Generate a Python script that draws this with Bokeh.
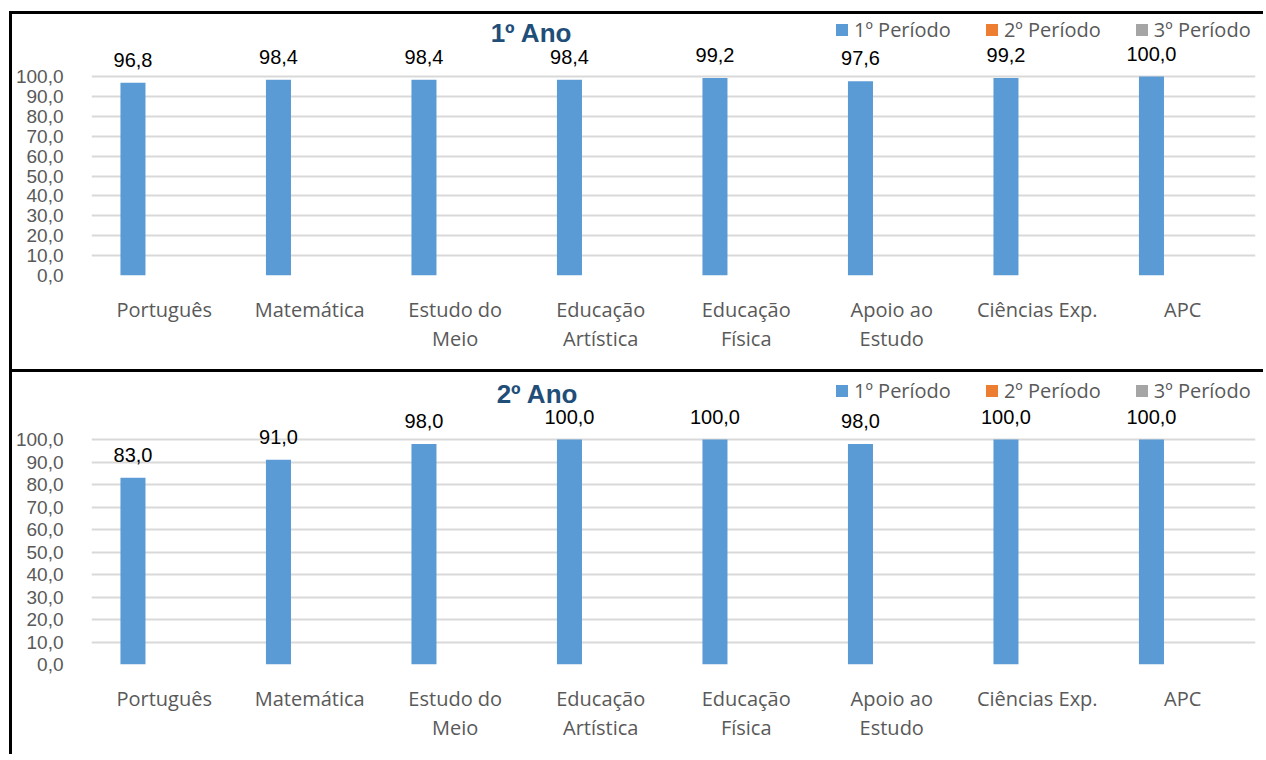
import math
from bokeh.plotting import figure
from bokeh.models import (ColumnDataSource, FactorRange, Range1d, FixedTicker,
                          CustomJSTickFormatter, Legend, LegendItem, Label)
from bokeh.transform import dodge
from bokeh.layouts import column
from bokeh.embed import file_html
from bokeh.resources import INLINE
from bokeh.core.properties import value

NaN = float("nan")

disciplinas = ["Português", "Matemática", "Estudo do\nMeio", "Educação\nArtística",
               "Educação\nFísica", "Apoio ao\nEstudo", "Ciências Exp.", "APC"]
periodos = ["1º Período", "2º Período", "3º Período"]
cores = ["#5B9BD5", "#ED7D31", "#A5A5A5"]

ano1_p1 = [96.8, 98.4, 98.4, 98.4, 99.2, 97.6, 99.2, 100.0]
ano1_p2 = [NaN, NaN, NaN, NaN, NaN, NaN, NaN, NaN]
ano1_p3 = [NaN, NaN, NaN, NaN, NaN, NaN, NaN, NaN]

ano2_p1 = [83.0, 91.0, 98.0, 100.0, 100.0, 98.0, 100.0, 100.0]
ano2_p2 = [NaN, NaN, NaN, NaN, NaN, NaN, NaN, NaN]
ano2_p3 = [NaN, NaN, NaN, NaN, NaN, NaN, NaN, NaN]

y_ticks = [0, 10, 20, 30, 40, 50, 60, 70, 80, 90, 100]

GRAY = "#595959"


def painel(titulo, s1, s2, s3, height, y_top, min_bottom, title_xy, legend_xy):
    lbl = [f"{v:.1f}".replace(".", ",") for v in s1]
    src = ColumnDataSource(dict(cat=disciplinas, p1=s1, p2=s2, p3=s3, lbl=lbl))
    p = figure(x_range=FactorRange(*disciplinas), y_range=Range1d(0, y_top),
               width=1254, height=height, output_backend="svg", toolbar_location=None,
               min_border_left=78, min_border_right=11, min_border_top=0,
               min_border_bottom=min_bottom)
    p.outline_line_color = None
    p.background_fill_color = "white"
    p.border_fill_color = "white"
    p.styles = {"border-top": "3px solid black", "border-left": "3px solid black"}

    offs = [-0.215, 0.0, 0.215]
    rends = []
    for key, off, cor in zip(["p1", "p2", "p3"], offs, cores):
        r = p.vbar(x=dodge("cat", off, range=p.x_range), top=key, width=0.172,
                   source=src, fill_color=cor, line_color=None)
        rends.append(r)

    p.text(x=dodge("cat", offs[0], range=p.x_range), y="p1", text="lbl", source=src,
           y_offset=-23, text_align="center", text_baseline="middle",
           text_font=value("Liberation Sans"), text_font_size="20px", text_color="black")

    p.xgrid.grid_line_color = None
    p.ygrid.ticker = FixedTicker(ticks=y_ticks)
    p.ygrid.grid_line_color = "#D9D9D9"
    p.ygrid.grid_line_width = 2

    ya = p.yaxis[0]
    ya.ticker = FixedTicker(ticks=y_ticks)
    ya.formatter = CustomJSTickFormatter(code="return tick.toFixed(1).replace('.', ',');")
    ya.axis_line_color = None
    ya.major_tick_line_color = None
    ya.minor_tick_line_color = None
    ya.major_tick_out = 0
    ya.major_tick_in = 0
    ya.major_label_standoff = 28
    ya.major_label_text_font = "Liberation Sans"
    ya.major_label_text_font_size = "19px"
    ya.major_label_text_color = GRAY

    xa = p.xaxis[0]
    xa.axis_line_color = None
    xa.major_tick_line_color = None
    xa.minor_tick_line_color = None
    xa.major_tick_out = 0
    xa.major_tick_in = 0
    xa.major_label_standoff = 20
    xa.major_label_text_font = "Open Sans"
    xa.major_label_text_font_size = "20px"
    xa.major_label_text_color = GRAY
    xa.major_label_text_line_height = 1.08

    p.add_layout(Label(x=title_xy[0], y=title_xy[1], x_units="screen", y_units="screen",
                       text=titulo, text_align="center", text_baseline="middle",
                       text_font="Liberation Sans", text_font_style="bold",
                       text_font_size="26px", text_color="#1F4E79"))

    legend = Legend(items=[LegendItem(label=n, renderers=[r]) for n, r in zip(periodos, rends)],
                    orientation="horizontal", location=legend_xy, padding=0, margin=0,
                    spacing=33, label_standoff=5, glyph_width=15, glyph_height=15,
                    border_line_color=None, background_fill_alpha=0,
                    label_text_font="Open Sans", label_text_font_size="20px",
                    label_text_color=GRAY)
    p.add_layout(legend)
    return p


p1 = painel("1º Ano", ano1_p1, ano1_p2, ano1_p3, height=358, y_top=131.16, min_bottom=97,
            title_xy=(440, 243), legend_xy=(743, 232))
p2 = painel("2º Ano", ano2_p1, ano2_p2, ano2_p3, height=385, y_top=129.78, min_bottom=93,
            title_xy=(446, 271), legend_xy=(743, 260))

layout = column(p1, p2, spacing=0, styles={"margin-left": "9px", "margin-top": "11px"})
open("out.html", "w").write(file_html(layout, INLINE))
